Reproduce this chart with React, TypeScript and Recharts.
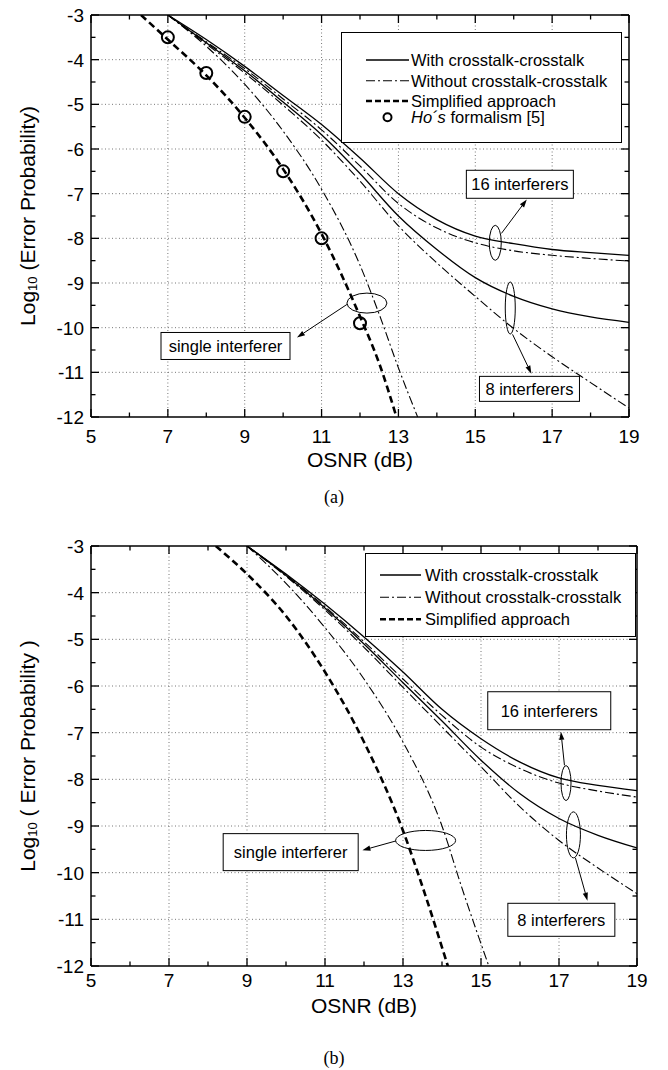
import React from "react"
import { LineChart, Line, XAxis, YAxis, CartesianGrid, ReferenceDot, ReferenceLine } from "recharts"

const FONT = "'Liberation Sans', Arial, Helvetica, sans-serif"

// axis ticks (minor ticks included, labels only on majors)
const X_TICKS = [5, 6, 7, 8, 9, 10, 11, 12, 13, 14, 15, 16, 17, 18, 19]
const Y_TICKS = [-12, -11.5, -11, -10.5, -10, -9.5, -9, -8.5, -8, -7.5, -7, -6.5, -6, -5.5, -5, -4.5, -4, -3.5, -3]
const GRID_X = [7, 9, 11, 13, 15, 17]
const GRID_Y = [-11, -10, -9, -8, -7, -6, -5, -4]

// ---- panel (a) ----
const A_OSNR = [7, 8, 9, 10, 11, 12, 13, 14, 15, 16, 17, 18, 19]
const A_16_WITH = [-3, -3.55, -4.15, -4.8, -5.45, -6.2, -7.0, -7.58, -7.95, -8.12, -8.25, -8.32, -8.38]
const A_16_WITHOUT = [-3, -3.6, -4.2, -4.88, -5.57, -6.38, -7.22, -7.77, -8.1, -8.28, -8.38, -8.45, -8.51]
const A_8_WITH = [-3, -3.62, -4.25, -4.95, -5.68, -6.55, -7.5, -8.25, -8.88, -9.3, -9.58, -9.76, -9.88]
const A_8_WITHOUT = [-3, -3.65, -4.3, -5.02, -5.8, -6.72, -7.72, -8.55, -9.3, -10.02, -10.65, -11.23, -11.8]
const A_SINGLE_WITHOUT_X = [7, 8, 9, 10, 11, 12, 12.5, 13, 13.5]
const A_SINGLE_WITHOUT_Y = [-3, -3.7, -4.55, -5.6, -6.9, -8.6, -9.7, -10.9, -12]
const A_SIMPLE_X = [6.3, 7, 8, 9, 10, 11, 12, 12.5, 12.95]
const A_SIMPLE_Y = [-3, -3.55, -4.35, -5.3, -6.45, -7.9, -9.75, -10.8, -12]
const A_HO_X = [7, 8, 9, 10, 11, 12]
const A_HO_Y = [-3.5, -4.3, -5.28, -6.5, -8.0, -9.9]

// ---- panel (b) ----
const B_OSNR = [9, 10, 11, 12, 13, 14, 15, 16, 17, 18, 19]
const B_16_WITH = [-3, -3.6, -4.25, -4.95, -5.7, -6.5, -7.13, -7.63, -7.97, -8.13, -8.24]
const B_16_WITHOUT = [-3, -3.62, -4.3, -5.05, -5.85, -6.63, -7.31, -7.77, -8.08, -8.25, -8.38]
const B_8_WITH = [-3, -3.63, -4.33, -5.1, -5.93, -6.75, -7.59, -8.31, -8.84, -9.2, -9.47]
const B_8_WITHOUT = [-3, -3.65, -4.37, -5.17, -6.03, -6.88, -7.73, -8.59, -9.31, -9.9, -10.45]
const B_SINGLE_WITHOUT_X = [9, 10, 11, 12, 13, 14, 14.5, 15.2]
const B_SINGLE_WITHOUT_Y = [-3, -3.8, -4.75, -5.85, -7.2, -9.0, -10.3, -12]
const B_SIMPLE_X = [8.2, 9, 10, 11, 12, 13, 13.5, 14.15]
const B_SIMPLE_Y = [-3, -3.6, -4.5, -5.7, -7.2, -9.1, -10.3, -12]

type Pt = { x: number; y: number }
const zip = (xs: number[], ys: number[]): Pt[] => xs.map((x, i) => ({ x, y: ys[i] }))

const SOLID = { stroke: "#000", strokeWidth: 1.3 }
const DASHDOT = { stroke: "#000", strokeWidth: 1.1, strokeDasharray: "9 3 2 3" }
const DASHED = { stroke: "#000", strokeWidth: 2.6, strokeDasharray: "7 4" }

type Series = { data: Pt[]; style: any }

const A_SERIES: Series[] = [
  { data: zip(A_OSNR, A_16_WITH), style: SOLID },
  { data: zip(A_OSNR, A_16_WITHOUT), style: DASHDOT },
  { data: zip(A_OSNR, A_8_WITH), style: SOLID },
  { data: zip(A_OSNR, A_8_WITHOUT), style: DASHDOT },
  { data: zip(A_SINGLE_WITHOUT_X, A_SINGLE_WITHOUT_Y), style: DASHDOT },
  { data: zip(A_SIMPLE_X, A_SIMPLE_Y), style: DASHED },
]
const B_SERIES: Series[] = [
  { data: zip(B_OSNR, B_16_WITH), style: SOLID },
  { data: zip(B_OSNR, B_16_WITHOUT), style: DASHDOT },
  { data: zip(B_OSNR, B_8_WITH), style: SOLID },
  { data: zip(B_OSNR, B_8_WITHOUT), style: DASHDOT },
  { data: zip(B_SINGLE_WITHOUT_X, B_SINGLE_WITHOUT_Y), style: DASHDOT },
  { data: zip(B_SIMPLE_X, B_SIMPLE_Y), style: DASHED },
]

// annotations, anchored in data coordinates
const A_BOXES = [
  { x: 16.16, y: -6.79, w: 107, h: 28, text: "16 interferers" },
  { x: 16.41, y: -11.37, w: 100, h: 25, text: "8 interferers" },
  { x: 8.5, y: -10.41, w: 129, h: 27, text: "single interferer" },
]
const A_ELLIPSES = [
  { x: 15.52, y: -8.1, rx: 6, ry: 17.5 },
  { x: 15.91, y: -9.56, rx: 5, ry: 26 },
  { x: 12.18, y: -9.45, rx: 20, ry: 10 },
]
const A_ARROWS = [
  { x1: 15.68, y1: -7.89, x2: 16.34, y2: -7.13 },
  { x1: 15.97, y1: -10.15, x2: 16.46, y2: -11.03 },
  { x1: 11.66, y1: -9.48, x2: 10.36, y2: -10.22 },
]
const B_BOXES = [
  { x: 16.75, y: -6.53, w: 123, h: 38, text: "16 interferers" },
  { x: 17.06, y: -11.01, w: 107, h: 33, text: "8 interferers" },
  { x: 10.12, y: -9.56, w: 135, h: 37, text: "single interferer" },
]
const B_ELLIPSES = [
  { x: 17.18, y: -8.08, rx: 5, ry: 17.5 },
  { x: 17.37, y: -9.19, rx: 7, ry: 23 },
  { x: 13.58, y: -9.31, rx: 30, ry: 10 },
]
const B_ARROWS = [
  { x1: 17.14, y1: -7.7, x2: 17.05, y2: -6.98 },
  { x1: 17.42, y1: -9.68, x2: 17.73, y2: -10.6 },
  { x1: 12.82, y1: -9.32, x2: 11.96, y2: -9.52 },
]

const LEGEND_ROWS = ["With crosstalk-crosstalk", "Without crosstalk-crosstalk", "Simplified approach"]

function makeTick(side: "bottom" | "top" | "left" | "right", labelDy = 0) {
  return (p: any) => {
    const v = Number(p.payload.value)
    const isX = side === "bottom" || side === "top"
    const major = isX ? Math.abs(Math.round(v)) % 2 === 1 : Number.isInteger(v)
    const len = major ? 8 : 4.5
    const { x, y } = p
    let line: React.ReactNode = null
    let label: React.ReactNode = null
    if (side === "bottom") {
      line = <line x1={x} y1={y} x2={x} y2={y - len} />
      if (major) label = <text x={x} y={y + labelDy} textAnchor="middle">{v}</text>
    } else if (side === "top") {
      line = <line x1={x} y1={y} x2={x} y2={y + len} />
    } else if (side === "left") {
      line = <line x1={x} y1={y} x2={x + len} y2={y} />
      if (major) label = <text x={x - 7} y={y + 7} textAnchor="end">{v}</text>
    } else {
      line = <line x1={x} y1={y} x2={x - len} y2={y} />
    }
    return (
      <g>
        <g stroke="#000" strokeWidth={1.3}>{line}</g>
        <g fontFamily={FONT} fontSize={19} fill="#000">{label}</g>
      </g>
    )
  }
}

const arrowShape = (p: any) => {
  const { x1, y1, x2, y2 } = p
  if (x1 == null) return <g />
  const ang = Math.atan2(y2 - y1, x2 - x1)
  const L = 8
  const W = 2.6
  const bx = x2 - L * Math.cos(ang)
  const by = y2 - L * Math.sin(ang)
  const px = -Math.sin(ang) * W
  const py = Math.cos(ang) * W
  return (
    <g>
      <line x1={x1} y1={y1} x2={bx} y2={by} stroke="#000" strokeWidth={1} />
      <polygon points={`${x2},${y2} ${bx + px},${by + py} ${bx - px},${by - py}`} fill="#000" />
    </g>
  )
}

function Legend({ left, top, w, h, rowY, sx1, sx2, tx, ho }: any) {
  const rows = ho ? [...LEGEND_ROWS, "ho"] : LEGEND_ROWS
  const styles = [SOLID, DASHDOT, DASHED]
  return (
    <div style={{ position: "absolute", left, top, width: w, height: h }}>
      <svg width={w} height={h} style={{ display: "block" }}>
        <rect x={0.5} y={0.5} width={w - 1} height={h - 1} fill="#fff" stroke="#000" strokeWidth={1} />
        {rows.map((r, i) => {
          const cy = rowY[i]
          return (
            <g key={i}>
              {r === "ho" ? (
                <circle cx={(sx1 + sx2) / 2} cy={cy} r={4} fill="none" stroke="#000" strokeWidth={2} />
              ) : (
                <line x1={sx1} x2={sx2} y1={cy} y2={cy} {...styles[i]} strokeDasharray={i === 1 ? "9 3 2 3" : i === 2 ? "6 3" : undefined} />
              )}
              <text x={tx} y={cy + 6} fontFamily={FONT} fontSize={16.5} fill="#000">
                {r === "ho" ? (
                  <>
                    <tspan fontStyle="italic">{"Ho\u00B4s"}</tspan>
                    <tspan>{" formalism [5]"}</tspan>
                  </>
                ) : (
                  r
                )}
              </text>
            </g>
          )
        })}
      </svg>
    </div>
  )
}

function Panel(props: any) {
  const { height, topH, bottomH, rightW, series, ho, boxes, ellipses, arrows, tickDy, titleDy, yTitle } = props
  return (
    <LineChart width={668} height={height} margin={{ top: 0, right: 0, bottom: 0, left: 0 }}>
      <CartesianGrid horizontalValues={GRID_Y} verticalValues={GRID_X} stroke="#777" strokeDasharray="1 2.5" />
      <XAxis
        type="number"
        dataKey="x"
        domain={[5, 19]}
        ticks={X_TICKS}
        interval={0}
        allowDataOverflow
        height={bottomH}
        tickSize={0}
        tickMargin={0}
        tickLine={false}
        axisLine={{ stroke: "#000", strokeWidth: 1.5 }}
        tick={makeTick("bottom", tickDy)}
        label={{
          content: (lp: any) => {
            const vb = lp.viewBox || {}
            return (
              <text x={vb.x + vb.width / 2} y={vb.y + titleDy} textAnchor="middle" fontFamily={FONT} fontSize={21} fill="#000">
                OSNR (dB)
              </text>
            )
          },
        }}
      />
      <XAxis
        xAxisId="top"
        orientation="top"
        type="number"
        dataKey="x"
        domain={[5, 19]}
        ticks={X_TICKS}
        interval={0}
        allowDataOverflow
        height={topH}
        tickSize={0}
        tickMargin={0}
        tickLine={false}
        axisLine={{ stroke: "#000", strokeWidth: 1.5 }}
        tick={makeTick("top")}
      />
      <YAxis
        type="number"
        domain={[-12, -3]}
        ticks={Y_TICKS}
        interval={0}
        allowDataOverflow
        width={91}
        tickSize={0}
        tickMargin={0}
        tickLine={false}
        axisLine={{ stroke: "#000", strokeWidth: 1.5 }}
        tick={makeTick("left")}
        label={{
          content: (lp: any) => {
            const vb = lp.viewBox || {}
            const cx = 27
            const cy = vb.y + vb.height / 2
            return (
              <text
                x={cx}
                y={cy}
                transform={`rotate(-90 ${cx} ${cy})`}
                textAnchor="middle"
                dominantBaseline="central"
                fontFamily={FONT}
                fontSize={21}
                fill="#000"
              >
                <tspan>Log</tspan>
                <tspan fontSize={13} dy={5}>10</tspan>
                <tspan dy={-5}>{yTitle}</tspan>
              </text>
            )
          },
        }}
      />
      <YAxis
        yAxisId="right"
        orientation="right"
        type="number"
        domain={[-12, -3]}
        ticks={Y_TICKS}
        interval={0}
        allowDataOverflow
        width={rightW}
        tickSize={0}
        tickMargin={0}
        tickLine={false}
        axisLine={{ stroke: "#000", strokeWidth: 1.5 }}
        tick={makeTick("right")}
      />
      {series.map((s: Series, i: number) => (
        <Line
          key={i}
          data={s.data}
          dataKey="y"
          type="monotone"
          dot={false}
          activeDot={false}
          isAnimationActive={false}
          {...s.style}
        />
      ))}
      {ho && (
        <Line
          data={ho}
          dataKey="y"
          stroke="none"
          dot={{ r: 6, stroke: "#000", strokeWidth: 2, fill: "none" }}
          activeDot={false}
          isAnimationActive={false}
        />
      )}
      {ellipses.map((e: any, i: number) => (
        <ReferenceDot
          key={`e${i}`}
          x={e.x}
          y={e.y}
          r={1}
          ifOverflow="visible"
          shape={(p: any) => <ellipse cx={p.cx} cy={p.cy} rx={e.rx} ry={e.ry} fill="none" stroke="#000" strokeWidth={1} />}
        />
      ))}
      {arrows.map((a: any, i: number) => (
        <ReferenceLine
          key={`a${i}`}
          segment={[
            { x: a.x1, y: a.y1 },
            { x: a.x2, y: a.y2 },
          ]}
          ifOverflow="visible"
          stroke="#000"
          shape={arrowShape}
        />
      ))}
      {boxes.map((b: any, i: number) => (
        <ReferenceDot
          key={`b${i}`}
          x={b.x}
          y={b.y}
          r={1}
          ifOverflow="visible"
          shape={(p: any) => (
            <g>
              <rect x={p.cx - b.w / 2} y={p.cy - b.h / 2} width={b.w} height={b.h} fill="#fff" stroke="#000" strokeWidth={1} />
              <text x={p.cx} y={p.cy + 6} textAnchor="middle" fontFamily={FONT} fontSize={16.5} fill="#000">
                {b.text}
              </text>
            </g>
          )}
        />
      ))}
    </LineChart>
  )
}

export default function App() {
  return (
    <div style={{ position: "absolute", left: 0, top: 0, width: 668, height: 1070, background: "#fff" }}>
      <div style={{ position: "absolute", left: 0, top: 0 }}>
        <Panel
          height={520}
          topH={15}
          bottomH={103}
          rightW={39}
          series={A_SERIES}
          ho={zip(A_HO_X, A_HO_Y)}
          boxes={A_BOXES}
          ellipses={A_ELLIPSES}
          arrows={A_ARROWS}
          tickDy={26}
          titleDy={50}
          yTitle=" (Error Probability)"
        />
        <Legend left={341} top={32} w={281} h={111} rowY={[28, 48.7, 69, 85.3]} sx1={25} sx2={68} tx={70} ho />
      </div>
      <div style={{ position: "absolute", left: 0, top: 520 }}>
        <Panel
          height={550}
          topH={26}
          bottomH={104}
          rightW={31}
          series={B_SERIES}
          boxes={B_BOXES}
          ellipses={B_ELLIPSES}
          arrows={B_ARROWS}
          tickDy={21}
          titleDy={47}
          yTitle=" ( Error Probability )"
        />
        <Legend left={365} top={33} w={271} h={84} rowY={[22, 44.3, 66.3]} sx1={15} sx2={56} tx={60} />
      </div>
      <div style={{ position: "absolute", left: 0, top: 486, width: 668, textAlign: "center", fontFamily: "'Liberation Serif', 'Times New Roman', serif", fontSize: 18, lineHeight: "22px" }}>
        (a)
      </div>
      <div style={{ position: "absolute", left: 0, top: 1047, width: 668, textAlign: "center", fontFamily: "'Liberation Serif', 'Times New Roman', serif", fontSize: 18, lineHeight: "22px" }}>
        (b)
      </div>
    </div>
  )
}
